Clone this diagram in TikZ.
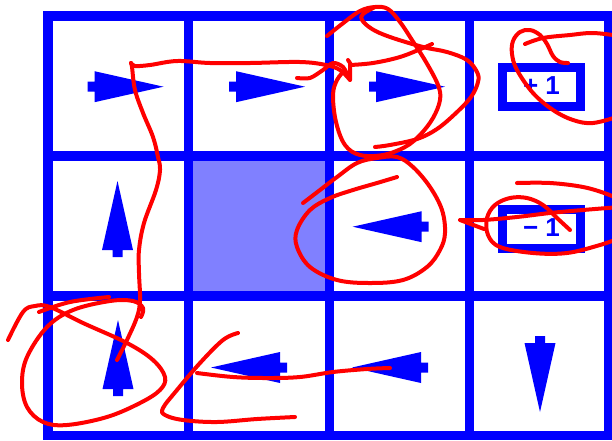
\documentclass[tikz,border=0pt]{standalone}
\usepackage{fontspec}
\setmainfont{Liberation Sans}
\definecolor{polblue}{RGB}{0,0,255}
\definecolor{pen}{RGB}{255,0,0}
\tikzset{
  gridline/.style={polblue, line width=9.5pt},
  rewbox/.style={draw=polblue, line width=9pt, minimum width=78pt, minimum height=39pt,
    inner sep=0pt, text=polblue, font=\fontsize{26}{26}\selectfont\bfseries},
  ink/.style={pen, line width=4pt, line cap=round, line join=round},
  pol/.pic={\fill[polblue] (-30,-5) -- (-23,-5) -- (-23,-15.5) -- (46,0) -- (-23,15.5) -- (-23,5) -- (-30,5) -- cycle;}
}
\begin{document}
\begin{tikzpicture}[x=1pt,y=-1pt]
\useasboundingbox (0,0) rectangle (612,440);
% Blocked cell
\fill[polblue!50] (188.3,156) rectangle (329.5,296);
% Draw grid
\foreach \x in {48,188.3,329.5,469.5,609}
  \draw[gridline] (\x,11.3) -- (\x,440.3);
\foreach \y in {16,156,296,435.5}
  \draw[gridline] (43.3,\y) -- (613.8,\y);

% Policy arrows
\pic[rotate=0] (a11) at (117.5,86.7) {pol};
\pic[rotate=0] (a12) at (259,86.7) {pol};
\pic[rotate=0] (a13) at (399,86.7) {pol};
\pic[rotate=90] (a21) at (117.5,227) {pol};
\pic[rotate=180] (a23) at (398.7,226.7) {pol};
\pic[rotate=90] (a31) at (118,366) {pol};
\pic[rotate=180] (a32) at (257,367.5) {pol};
\pic[rotate=180] (a33) at (398,367.5) {pol};
\pic[rotate=270] (a34) at (540,366) {pol};

% Terminal rewards
\node[rewbox] (goal) at (541.5,87) {\raisebox{3pt}{+ 1}};
\node[rewbox] (pit) at (541.5,228.5) {\raisebox{2pt}{− 1}};

% Red pen strokes
\draw[ink] plot[smooth, tension=0.6] coordinates {(117,360) (127,340) (137,317) (140,300) (139,273) (139,250) (144,223) (156,190) (160,170) (158,157) (153,137) (143,113) (135,90) (132,67) (131,63)};
\draw[ink] plot[smooth, tension=0.6] coordinates {(131,63) (135,66) (150,65) (177,61) (210,63) (250,63) (300,62) (326,65) (340,70) (350,80)};
\draw[ink] plot[smooth, tension=0.5] coordinates {(297,78) (310,78) (323,70) (333,63) (343,67) (350,80)} -- (350,63) -- (348,60);
\draw[ink] plot[smooth, tension=0.6] coordinates {(350,65) (373,63) (400,57) (423,48) (432,44)};
\draw[ink] plot[smooth, tension=0.6] coordinates {(327,36) (342,24) (360,11) (375,7) (388,9) (400,22) (412,40) (426,62) (438,85) (440,100) (433,118) (420,135) (405,147) (383,155) (360,155) (345,145) (336,122) (333,95) (337,80) (345,70)};
\draw[ink] plot[smooth, tension=0.6] coordinates {(375,7) (363,14) (362,20) (372,29) (390,37) (423,47) (447,52) (467,60) (477,72) (478,82) (471,97) (456,113) (437,129) (417,139) (390,145) (375,147)};
\draw[ink] plot[smooth, tension=0.6] coordinates {(303,203) (320,190) (337,177) (357,163) (377,158) (397,157) (413,167) (430,187) (442,210) (445,233) (440,250) (427,267) (403,280) (370,283) (337,280) (310,267) (297,247) (297,230) (310,210) (330,198) (353,190) (377,183) (397,177)};
\draw[ink] plot[smooth, tension=0.6] coordinates {(525,44) (543,38) (570,35) (593,33) (620,36)};
\draw[ink] plot[smooth, tension=0.6] coordinates {(568,63) (560,62) (553,56) (547,44) (540,35) (530,30) (520,32) (513,41) (512,54) (517,70) (533,93) (553,110) (573,120) (593,123) (620,116)};
\draw[ink] plot[smooth, tension=0.6] coordinates {(517,183) (550,183) (583,187) (607,194) (620,200)};
\draw[ink] (484,229) -- (460,220) plot[smooth, tension=0.6] coordinates {(460,220) (483,220) (517,217) (550,213) (583,210) (620,207)};
\draw[ink] plot[smooth, tension=0.6] coordinates {(570,230) (557,218) (543,205) (527,198) (510,198) (495,205) (487,218) (488,235) (500,247) (533,253) (567,253) (600,245) (620,238)};
\draw[ink] plot[smooth, tension=0.6] coordinates {(39,312) (70,302) (109,297)};
\draw[ink] plot[smooth, tension=0.6] coordinates {(8,340) (23,312) (35,306) (50,307) (83,323) (127,343) (153,360) (165,377) (160,390) (140,403) (107,417) (67,425) (43,422) (27,407) (22,383) (27,357) (47,327) (73,310) (110,301) (133,301) (143,308) (141,317)};
\draw[ink] plot[smooth, tension=0.6] coordinates {(197,373) (233,377) (267,378) (300,377) (333,372) (367,369) (390,368)};
\draw[ink] plot[smooth, tension=0.6] coordinates {(238,333) (223,340) (200,363) (177,390) (163,408) (165,415) (183,420) (217,422) (257,419) (295,417)};
\end{tikzpicture}
\end{document}
